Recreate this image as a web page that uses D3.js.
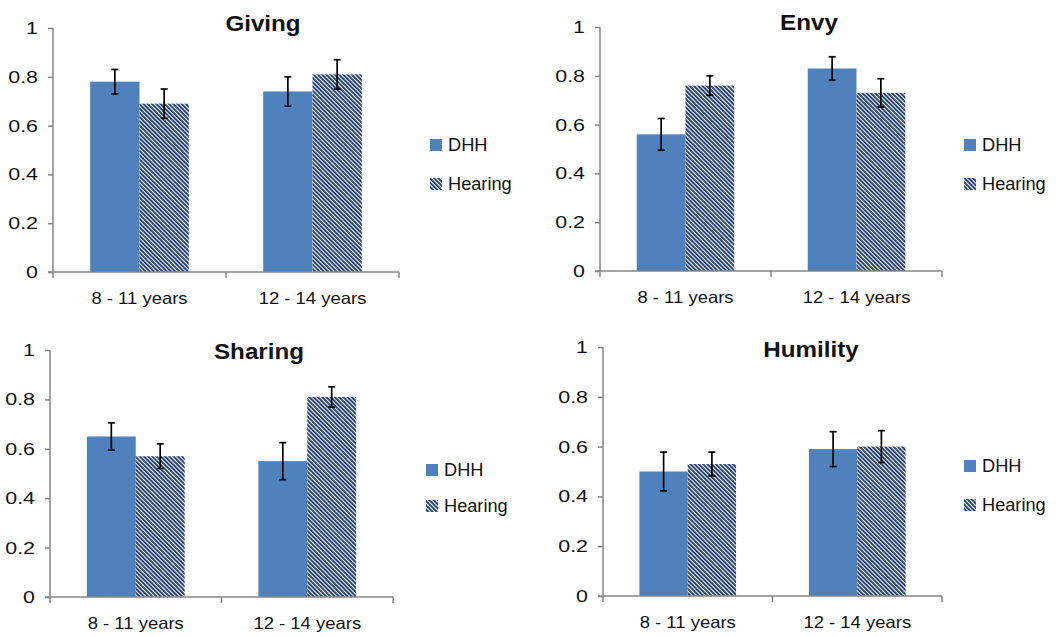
<!DOCTYPE html>
<html>
<head>
<meta charset="utf-8">
<script src="https://cdn.jsdelivr.net/npm/d3@7"></script>
<style>
  body { margin: 0; background: #fff; }
  svg { display: block; font-family: "Liberation Sans", Arial, sans-serif; }
</style>
</head>
<body>
<svg id="chart" width="1056" height="637"></svg>
<script>
// ---- data ----
var panelTitles = ["Giving", "Envy", "Sharing", "Humility"];
var categories = ["8 - 11 years", "12 - 14 years"];
var seriesNames = ["DHH", "Hearing"];
var dhhValues = [[0.78, 0.74], [0.56, 0.83], [0.65, 0.55], [0.50, 0.59]];
var dhhErrors = [[0.05, 0.06], [0.065, 0.048], [0.055, 0.075], [0.078, 0.07]];
var hearingValues = [[0.69, 0.81], [0.76, 0.73], [0.57, 0.81], [0.53, 0.60]];
var hearingErrors = [[0.06, 0.06], [0.04, 0.058], [0.05, 0.041], [0.048, 0.064]];
var yTicks = [0, 0.2, 0.4, 0.6, 0.8, 1];

// ---- layout of the four panels ----
var layout = [
	{ x0: 53, x1: 399, yTop: 28, yBot: 272, tx: 263, ty: 31, lx: 430, ly1: 145, ly2: 184 },
	{ x0: 600, x1: 942, yTop: 27, yBot: 271, tx: 809, ty: 30, lx: 964, ly1: 145, ly2: 184 },
	{ x0: 50, x1: 393, yTop: 350, yBot: 597, tx: 259, ty: 359, lx: 426, ly1: 470, ly2: 506 },
	{ x0: 603, x1: 942, yTop: 347, yBot: 596, tx: 811, ty: 357, lx: 964, ly1: 466, ly2: 505 }
];

var blue = "#4f81bd";
var navy = "#1f3c6e";
var axisGray = "#868686";

var svg = d3.select("#chart");

//hatch pattern for the Hearing bars
var defs = svg.append("defs");
var pat = defs.append("pattern")
	.attr("id", "hatch")
	.attr("patternUnits", "userSpaceOnUse")
	.attr("width", 3)
	.attr("height", 3)
	.attr("patternTransform", "rotate(-45)");
pat.append("rect").attr("width", 3).attr("height", 3).attr("fill", "#fff");
pat.append("rect").attr("width", 1.9).attr("height", 3).attr("fill", navy);

var seriesFill = { "DHH": blue, "Hearing": "url(#hatch)" };

//text with a little horizontal stretch (the source font is wide)
function addText(g, x, y, str, size, weight, anchor, sx) {
	return g.append("text")
		.attr("transform", "translate(" + x + "," + y + ") scale(" + sx + ",1)")
		.attr("font-size", size)
		.attr("font-weight", weight)
		.attr("text-anchor", anchor)
		.attr("fill", "#111")
		.text(str);
}

panelTitles.forEach(function (title, p) {
	var L = layout[p];
	var g = svg.append("g");

	var y = d3.scaleLinear().domain([0, 1]).range([L.yBot, L.yTop]);
	var x = d3.scaleBand().domain(categories).range([L.x0, L.x1])
		.paddingInner(0.43).paddingOuter(0.215);
	var xs = d3.scaleBand().domain(seriesNames).range([0, x.bandwidth()]);

	var rows = [];
	categories.forEach(function (c, i) {
		rows.push({ cat: c, s: "DHH", v: dhhValues[p][i], e: dhhErrors[p][i] });
		rows.push({ cat: c, s: "Hearing", v: hearingValues[p][i], e: hearingErrors[p][i] });
	});

	//bars
	g.selectAll("rect.bar").data(rows).enter().append("rect")
		.attr("class", "bar")
		.attr("x", function (d) { return x(d.cat) + xs(d.s); })
		.attr("y", function (d) { return y(d.v); })
		.attr("width", xs.bandwidth())
		.attr("height", function (d) { return y(0) - y(d.v); })
		.attr("fill", function (d) { return seriesFill[d.s]; });

	//y axis
	var yAxis = g.append("g")
		.attr("transform", "translate(" + L.x0 + ",0)")
		.call(d3.axisLeft(y).tickValues(yTicks).tickSize(5).tickSizeOuter(0)
			.tickFormat(function (d) { return d === 0 || d === 1 ? d3.format("d")(d) : d3.format(".1f")(d); }));
	yAxis.select(".domain").attr("stroke", axisGray).attr("stroke-width", 1.5)
		.attr("d", "M0," + (L.yTop) + "V" + (L.yBot + 6));
	yAxis.selectAll(".tick line").attr("stroke", axisGray).attr("stroke-width", 1.5);
	yAxis.selectAll(".tick text")
		.attr("font-size", 17)
		.attr("font-family", "Liberation Sans, Arial, sans-serif")
		.attr("fill", "#111")
		.attr("x", -15 / 1.26)
		.attr("transform", "scale(1.26,1)");

	//x axis
	var xAxis = g.append("g")
		.attr("transform", "translate(0," + L.yBot + ")")
		.call(d3.axisBottom(x).tickSize(0).tickSizeOuter(0));
	xAxis.select(".domain").attr("stroke", axisGray).attr("stroke-width", 1.5)
		.attr("d", "M" + (L.x0 - 5) + ",0H" + L.x1);
	xAxis.selectAll(".tick text").remove();
	//boundary ticks between categories
	var bounds = d3.range(categories.length + 1).map(function (i) { return L.x0 + i * x.step(); });
	xAxis.selectAll("line.bnd").data(bounds.slice(1)).enter().append("line")
		.attr("class", "bnd")
		.attr("x1", function (d) { return d; }).attr("x2", function (d) { return d; })
		.attr("y1", 0).attr("y2", 6)
		.attr("stroke", axisGray).attr("stroke-width", 1.5);
	categories.forEach(function (c) {
		addText(g, x(c) + x.bandwidth() / 2, L.yBot + 32, c, 16.5, "normal", "middle", 1.12);
	});

	//error bars
	var eb = g.selectAll("g.err").data(rows).enter().append("g").attr("class", "err")
		.attr("stroke", "#000").attr("stroke-width", 1.7);
	eb.append("line")
		.attr("x1", function (d) { return x(d.cat) + xs(d.s) + xs.bandwidth() / 2; })
		.attr("x2", function (d) { return x(d.cat) + xs(d.s) + xs.bandwidth() / 2; })
		.attr("y1", function (d) { return y(d.v + d.e); })
		.attr("y2", function (d) { return y(d.v - d.e); });
	[1, -1].forEach(function (sgn) {
		eb.append("line")
			.attr("x1", function (d) { return x(d.cat) + xs(d.s) + xs.bandwidth() / 2 - 3.5; })
			.attr("x2", function (d) { return x(d.cat) + xs(d.s) + xs.bandwidth() / 2 + 3.5; })
			.attr("y1", function (d) { return y(d.v + sgn * d.e); })
			.attr("y2", function (d) { return y(d.v + sgn * d.e); });
	});

	//title
	addText(g, L.tx, L.ty, title, 22, "bold", "middle", 1.1);

	//legend
	var ly = [L.ly1, L.ly2];
	seriesNames.forEach(function (s, i) {
		g.append("rect")
			.attr("x", L.lx).attr("y", ly[i] - 6)
			.attr("width", 12).attr("height", 12)
			.attr("fill", seriesFill[s]);
		addText(g, L.lx + 18, ly[i] + 6, s, 17.5, "normal", "start", 1.04);
	});
});
</script>
</body>
</html>
